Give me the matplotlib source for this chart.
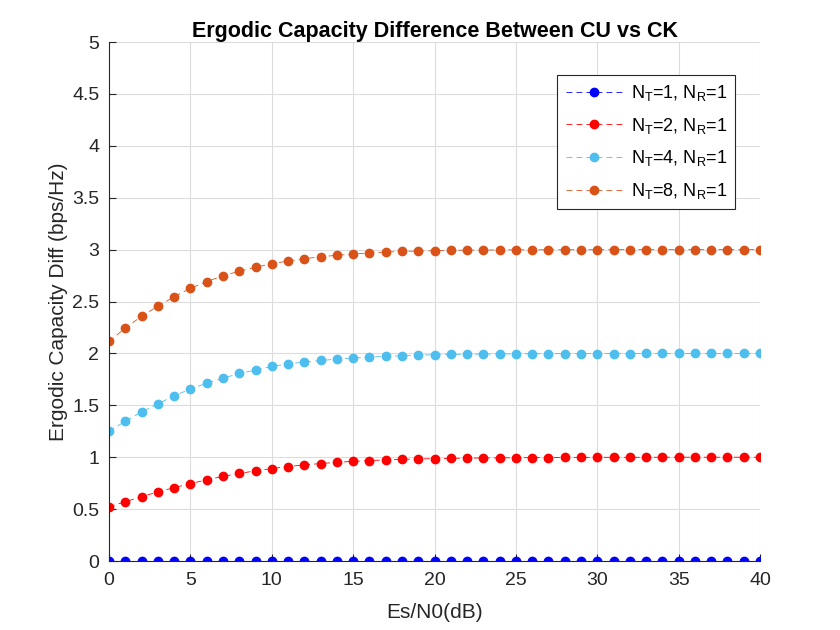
import matplotlib
matplotlib.use('Agg')
import matplotlib.pyplot as plt
import numpy as np

plt.rcParams['font.family'] = ['Liberation Sans', 'DejaVu Sans']
plt.rcParams['mathtext.default'] = 'regular'

snr_db = list(range(0, 41))

# NT=1 : no difference at all
diff_nt1 = [0.0] * 41

diff_nt2 = [0.523, 0.571, 0.620, 0.665, 0.707, 0.746, 0.782, 0.815, 0.844, 0.868,
            0.891, 0.910, 0.926, 0.939, 0.951, 0.960, 0.968, 0.974, 0.979, 0.983,
            0.986, 0.989, 0.991, 0.993, 0.994, 0.995, 0.996, 0.997, 0.998, 0.998,
            0.999, 0.999, 0.999, 0.999, 1.000, 1.000, 1.000, 1.000, 1.000, 1.000,
            1.000]

diff_nt4 = [1.252, 1.346, 1.437, 1.515, 1.590, 1.658, 1.713, 1.761, 1.807, 1.839,
            1.875, 1.898, 1.917, 1.932, 1.945, 1.956, 1.965, 1.972, 1.978, 1.983,
            1.987, 1.990, 1.992, 1.994, 1.995, 1.996, 1.997, 1.998, 1.998, 1.999,
            1.999, 1.999, 1.999, 2.000, 2.000, 2.000, 2.000, 2.000, 2.000, 2.000,
            2.000]

diff_nt8 = [2.115, 2.245, 2.358, 2.455, 2.546, 2.627, 2.692, 2.748, 2.792, 2.830,
            2.864, 2.890, 2.912, 2.932, 2.945, 2.958, 2.968, 2.976, 2.982, 2.987,
            2.990, 2.993, 2.995, 2.996, 2.997, 2.998, 2.998, 2.999, 2.999, 2.999,
            2.999, 3.000, 3.000, 3.000, 3.000, 3.000, 3.000, 3.000, 3.000, 3.000,
            3.000]

labels = [r'N$_T$=1, N$_R$=1', r'N$_T$=2, N$_R$=1',
          r'N$_T$=4, N$_R$=1', r'N$_T$=8, N$_R$=1']
colors = ['#0000FF', '#FF0000', '#4DBEEE', '#D95319']

fig = plt.figure(figsize=(8.4, 6.3), dpi=100)
ax = fig.add_axes([0.1298, 0.1095, 0.775, 0.8238])

for y, c, lab in zip([diff_nt1, diff_nt2, diff_nt4, diff_nt8], colors, labels):
    ax.plot(snr_db, y, linestyle=(0, (7, 5)), linewidth=0.6, color=c,
            marker='o', markersize=6, markerfacecolor=c, markeredgecolor=c,
            label=lab)

ax.set_xlim(0, 40)
ax.set_ylim(0, 5)
ax.set_xticks(range(0, 41, 5))
ax.set_yticks(np.arange(0, 5.01, 0.5))
ax.set_yticklabels(['0', '0.5', '1', '1.5', '2', '2.5', '3', '3.5', '4', '4.5', '5'])
ax.tick_params(direction='in', labelsize=14, colors='#262626', length=5)
ax.tick_params(axis='x', pad=8)
ax.tick_params(axis='y', pad=7)
ax.grid(True, color='#dcdcdc', linewidth=0.8)
ax.set_axisbelow(True)
for s in ['top', 'right']:
    ax.spines[s].set_visible(False)
for s in ['left', 'bottom']:
    ax.spines[s].set_color('#262626')

ax.set_title('Ergodic Capacity Difference Between CU vs CK', fontsize=15.5,
             fontweight='bold', pad=2)
ax.set_xlabel('Es/N0(dB)', fontsize=15, color='#262626', labelpad=10)
ax.set_ylabel('Ergodic Capacity Diff (bps/Hz)', fontsize=15, color='#262626',
              labelpad=3)

leg = ax.legend(loc='upper right', bbox_to_anchor=(0.9616, 0.9364), fontsize=13,
                handlelength=3.2, handletextpad=0.4, fancybox=False, framealpha=1,
                edgecolor='#262626', borderpad=0.45, labelspacing=0.7,
                borderaxespad=0)
leg.get_frame().set_linewidth(0.8)

fig.savefig('out.png', dpi=100)
